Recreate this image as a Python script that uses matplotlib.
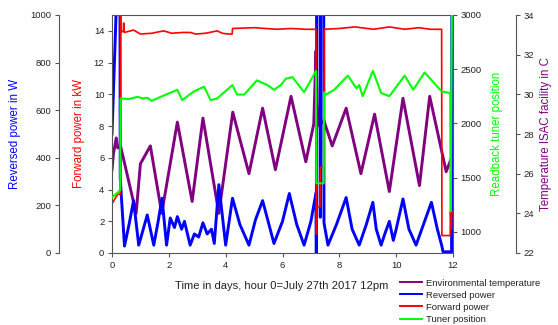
import matplotlib
matplotlib.use("Agg")
import matplotlib.pyplot as plt
from matplotlib.lines import Line2D

plt.rcParams["font.family"] = ["Liberation Sans", "DejaVu Sans"]

# forward power (kW)
fwd_t = [0, 0.1, 0.2, 0.29, 0.3, 0.31, 0.4, 0.41, 0.43, 0.76, 1.0, 1.4, 1.82, 2.1, 2.5, 2.76, 2.94, 3.3, 3.7,
         3.88, 4.1, 4.23, 4.24, 5.0, 5.8, 6.3, 6.8, 7.18, 7.19, 7.2, 7.21, 7.32, 7.33, 7.46, 7.47, 8.0, 8.55, 9.2,
         9.76, 10.3, 10.8, 11.2, 11.6, 11.61, 11.9, 11.91, 11.94, 11.96, 12.0]
fwd_kw = [3.1, 3.4, 3.7, 3.7, 15.5, 13.9, 14.0, 14.5, 13.9, 14.05, 13.8, 13.85, 14.0, 13.85, 13.9, 13.9, 13.8, 13.85,
          14.0, 13.85, 13.8, 13.8, 14.15, 14.2, 14.1, 14.15, 14.1, 14.1, 1.2, 1.2, 2.9, 2.9, 5.4, 5.4, 14.1, 14.15,
          14.25, 14.1, 14.25, 14.1, 14.2, 14.1, 14.1, 1.1, 1.1, 2.6, 1.5, 2.6, 2.6]

# readback tuner position
tun_t = [0, 0.29, 0.3, 0.6, 0.9, 1.1, 1.24, 1.4, 1.7, 2.3, 2.47, 2.88, 3.24, 3.47, 3.7, 4.24, 4.4, 4.65, 5.1, 5.47,
         5.7, 5.94, 6.12, 6.35, 6.76, 7.18, 7.19, 7.45, 7.46, 7.53, 7.82, 8.3, 8.6, 8.7, 8.82, 9.18, 9.47, 9.76,
         10.3, 10.6, 11.0, 11.3, 11.6, 11.9, 11.92, 11.96, 12.0]
tun_pos = [1317, 1383, 2230, 2225, 2245, 2230, 2237, 2208, 2244, 2310, 2215, 2295, 2339, 2215, 2230, 2354, 2266, 2266,
           2397, 2354, 2310, 2354, 2412, 2427, 2288, 2485, 1448, 1448, 2288, 2266, 2310, 2441, 2324, 2354, 2251,
           2485, 2281, 2251, 2441, 2310, 2470, 2383, 2295, 2281, 1190, 3000, 3000]

# reversed power (W)
rev_t = [0, 0.17, 0.28, 0.29, 0.44, 0.6, 0.76, 0.94, 1.1, 1.24, 1.47, 1.62, 1.76, 1.92, 2.05, 2.2, 2.3, 2.45, 2.55,
         2.75, 2.9, 3.05, 3.2, 3.35, 3.5, 3.6, 3.76, 4.0, 4.24, 4.5, 4.82, 5.05, 5.3, 5.7, 6.0, 6.24, 6.5, 6.76, 7.0,
         7.18, 7.19, 7.2, 7.32, 7.33, 7.34, 7.45, 7.46, 7.6, 7.9, 8.24, 8.45, 8.7, 8.95, 9.18, 9.3, 9.47, 9.6, 9.76,
         9.9, 10.0, 10.24, 10.45, 10.7, 11.0, 11.24, 11.45, 11.6, 11.65, 11.95, 11.96, 12.0]
rev_w = [500, 1100, 1100, 313, 29, 120, 220, 33, 100, 160, 33, 130, 230, 33, 147, 107, 153, 100, 133, 33, 80, 67,
         127, 80, 100, 40, 287, 33, 230, 120, 33, 140, 220, 40, 133, 250, 120, 33, 133, 253, 0, 1100, 1100, 150,
         1100, 1100, 127, 33, 120, 233, 100, 33, 120, 213, 100, 33, 80, 133, 53, 100, 227, 100, 33, 133, 213, 100,
         33, 5, 5, 1100, 1100]

# environmental temperature (C)
tmp_t = [0, 0.05, 0.15, 0.2, 0.3, 0.85, 1.0, 1.35, 1.75, 2.3, 2.82, 3.2, 3.76, 4.25, 4.82, 5.3, 5.75, 6.3, 6.82,
         7.1, 7.18, 7.22, 7.3, 7.45, 7.75, 8.24, 8.76, 9.24, 9.76, 10.24, 10.82, 11.18, 11.76, 12.0]
tmp_c = [26.2, 27.0, 27.8, 27.3, 27.4, 24.0, 26.5, 27.4, 24.0, 28.6, 24.6, 28.8, 24.0, 29.1, 26.0, 29.3, 26.2, 29.9,
         26.6, 28.5, 32.2, 29.5, 28.4, 28.7, 27.4, 29.3, 26.0, 29.0, 25.1, 29.8, 25.4, 29.9, 26.1, 27.0]

c_fwd = "#ff0000"
c_tun = "#00ff00"
c_rev = "#0000ff"
c_tmp = "#800080"
grey = "#555555"
txt = "#222222"

fig = plt.figure(figsize=(5.58, 3.25), dpi=100)
rect = [112 / 558, 72 / 325, 341 / 558, 238 / 325]

ax_tmp = fig.add_axes(rect)
ax_rev = fig.add_axes(rect)
ax_fwd = fig.add_axes(rect)
ax_tun = fig.add_axes(rect)

for ax in [ax_tmp, ax_rev, ax_fwd, ax_tun]:
    ax.patch.set_visible(False)
    ax.set_xlim(0, 12)
    for s in ax.spines.values():
        s.set_visible(False)
    ax.tick_params(colors=grey, labelcolor=txt, labelsize=6.8, length=3, width=0.8, pad=2.5)
    if ax is not ax_fwd:
        ax.set_xticks([])

ax_tmp.plot(tmp_t, tmp_c, color=c_tmp, lw=2.1)
ax_rev.plot(rev_t, rev_w, color=c_rev, lw=2.1)
ax_fwd.plot(fwd_t, fwd_kw, color=c_fwd, lw=1.2)
ax_tun.plot(tun_t, tun_pos, color=c_tun, lw=1.5)

# forward power: main box
ax_fwd.set_ylim(0, 15)
ax_fwd.set_yticks(range(0, 15, 2))
ax_fwd.set_xticks(range(0, 13, 2))
for s in ax_fwd.spines.values():
    s.set_visible(True)
    s.set_color(grey)
    s.set_linewidth(0.8)

# reversed power: offset left axis
ax_rev.set_ylim(0, 1000)
ax_rev.set_yticks(range(0, 1001, 200))
ax_rev.spines["left"].set_visible(True)
ax_rev.spines["left"].set_position(("axes", -53 / 341))
ax_rev.spines["left"].set_color(grey)
ax_rev.spines["left"].set_linewidth(0.8)

# tuner position: right side of box
ax_tun.set_ylim(805, 3000)
ax_tun.set_yticks(range(1000, 3001, 500))
ax_tun.yaxis.tick_right()

# temperature: offset right axis
ax_tmp.set_ylim(22, 34)
ax_tmp.set_yticks(range(22, 35, 2))
ax_tmp.yaxis.tick_right()
ax_tmp.spines["right"].set_visible(True)
ax_tmp.spines["right"].set_position(("axes", 1 + 63 / 341))
ax_tmp.spines["right"].set_color(grey)
ax_tmp.spines["right"].set_linewidth(0.8)

ycen = 1 - 134 / 325
fig.text(15 / 558, ycen, "Reversed power in W", color=c_rev, rotation=90, ha="center", va="center", fontsize=8.3)
fig.text(79 / 558, ycen, "Forward power in kW", color=c_fwd, rotation=90, ha="center", va="center", fontsize=8.3)
fig.text(497 / 558, ycen, "Readback tuner position", color=c_tun, rotation=90, ha="center", va="center", fontsize=8.3)
fig.text(546 / 558, ycen, "Temperature ISAC facility in C", color=c_tmp, rotation=90, ha="center", va="center",
         fontsize=8.3)
fig.text(282 / 558, 1 - 286 / 325, "Time in days, hour 0=July 27th 2017 12pm", color=txt, ha="center", va="center",
         fontsize=8.1)

handles = [Line2D([], [], color=c, lw=1.4) for c in [c_tmp, c_rev, c_fwd, c_tun]]
labels = ["Environmental temperature", "Reversed power", "Forward power", "Tuner position"]
fig.legend(handles, labels, loc="upper left", bbox_to_anchor=(400 / 558, 1 - 278.5 / 325), frameon=False,
           fontsize=6.8, handlelength=2.3, handletextpad=0.5, labelspacing=0.33, borderpad=0, borderaxespad=0,
           labelcolor=txt)

fig.savefig("out.png", dpi=100)
